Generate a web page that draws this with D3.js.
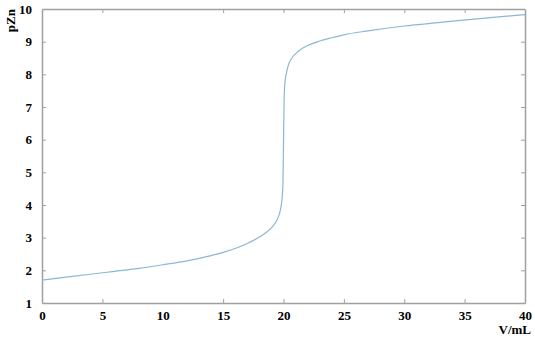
<!DOCTYPE html>
<html>
<head>
<meta charset="utf-8">
<script src="https://cdn.jsdelivr.net/npm/d3@7"></script>
<style>
  body { margin: 0; background: #fff; }
  text { font-family: "Liberation Serif", "Times New Roman", serif; font-weight: bold; fill: #000; }
</style>
</head>
<body>
<div id="chart"></div>
<script>
// titration curve, volume (mL) vs pZn
const volume = [0, 2, 4, 6, 8, 10, 12, 14, 15, 16, 17, 18, 18.5, 19, 19.4, 19.7, 19.85, 19.95,
    20, 20.05, 20.12, 20.25, 20.4, 20.7, 21.2, 22, 23, 24, 25, 27, 30, 33, 36, 40];
const pZn = [1.70, 1.79, 1.88, 1.97, 2.06, 2.17, 2.29, 2.45, 2.55, 2.67, 2.82, 3.02, 3.14, 3.30, 3.50, 3.78, 4.10, 4.60,
    5.90, 7.20, 7.75, 8.05, 8.28, 8.50, 8.70, 8.88, 9.02, 9.12, 9.21, 9.33, 9.48, 9.59, 9.70, 9.83];
const xTicks = [0, 5, 10, 15, 20, 25, 30, 35, 40];
const yTicks = [1, 2, 3, 4, 5, 6, 7, 8, 9, 10];

const width = 535,
    height = 338,
    margin = ({ top: 9, right: 10, bottom: 35, left: 42 });

const svg = d3.select("#chart")
    .append("svg")
    .attr("width", width)
    .attr("height", height);

const data = volume.map((v, i) => ({ v: v, p: pZn[i] }));

let x = d3.scaleLinear()
    .domain([0, 40])
    .range([margin.left, width - margin.right]);

let y = d3.scaleLinear()
    .domain([1, 10])
    .range([height - margin.bottom, margin.top]);

const axisColor = "#a0a0a0";

// bottom + left with labels, top + right mirrored ticks only
svg.append("g")
    .attr("class", "x-axis")
    .attr("transform", `translate(0,${height - margin.bottom})`)
    .call(d3.axisBottom(x).tickValues(xTicks).tickSize(-4).tickSizeOuter(0).tickPadding(8));

svg.append("g")
    .attr("class", "x-axis-top")
    .attr("transform", `translate(0,${margin.top})`)
    .call(d3.axisTop(x).tickValues(xTicks).tickSize(-4).tickSizeOuter(0).tickFormat(""));

svg.append("g")
    .attr("class", "y-axis")
    .attr("transform", `translate(${margin.left},0)`)
    .call(d3.axisLeft(y).tickValues(yTicks).tickSize(-4).tickSizeOuter(0).tickPadding(10));

svg.append("g")
    .attr("class", "y-axis-right")
    .attr("transform", `translate(${width - margin.right},0)`)
    .call(d3.axisRight(y).tickValues(yTicks).tickSize(-4).tickSizeOuter(0).tickFormat(""));

svg.selectAll(".domain").attr("stroke", axisColor).attr("stroke-width", 1.5);
svg.selectAll(".tick line").attr("stroke", axisColor).attr("stroke-width", 1);
svg.selectAll(".tick text")
    .attr("font-size", 13)
    .attr("font-family", "Liberation Serif, serif")
    .attr("font-weight", "bold")
    .attr("fill", "#000");

// hide the edge ticks that sit on the frame
svg.selectAll(".tick line").filter(d => d === 0 || d === 40 || d === 1 || d === 10).attr("opacity", 0);

svg.append("text")
    .attr("class", "x-label")
    .attr("text-anchor", "end")
    .attr("x", width - 4)
    .attr("y", height - 4)
    .attr("font-size", 13)
    .text("V/mL");

svg.append("text")
    .attr("class", "y-label")
    .attr("text-anchor", "end")
    .attr("transform", "rotate(-90)")
    .attr("x", -9)
    .attr("y", 15)
    .attr("font-size", 13)
    .text("pZn");

let line = d3.line()
    .x(d => x(d.v))
    .y(d => y(d.p))
    .curve(d3.curveMonotoneX);

svg.append("path")
    .datum(data)
    .attr("d", line)
    .attr("fill", "none")
    .attr("stroke", "#8ab8d2")
    .attr("stroke-width", 1.2);
</script>
</body>
</html>
